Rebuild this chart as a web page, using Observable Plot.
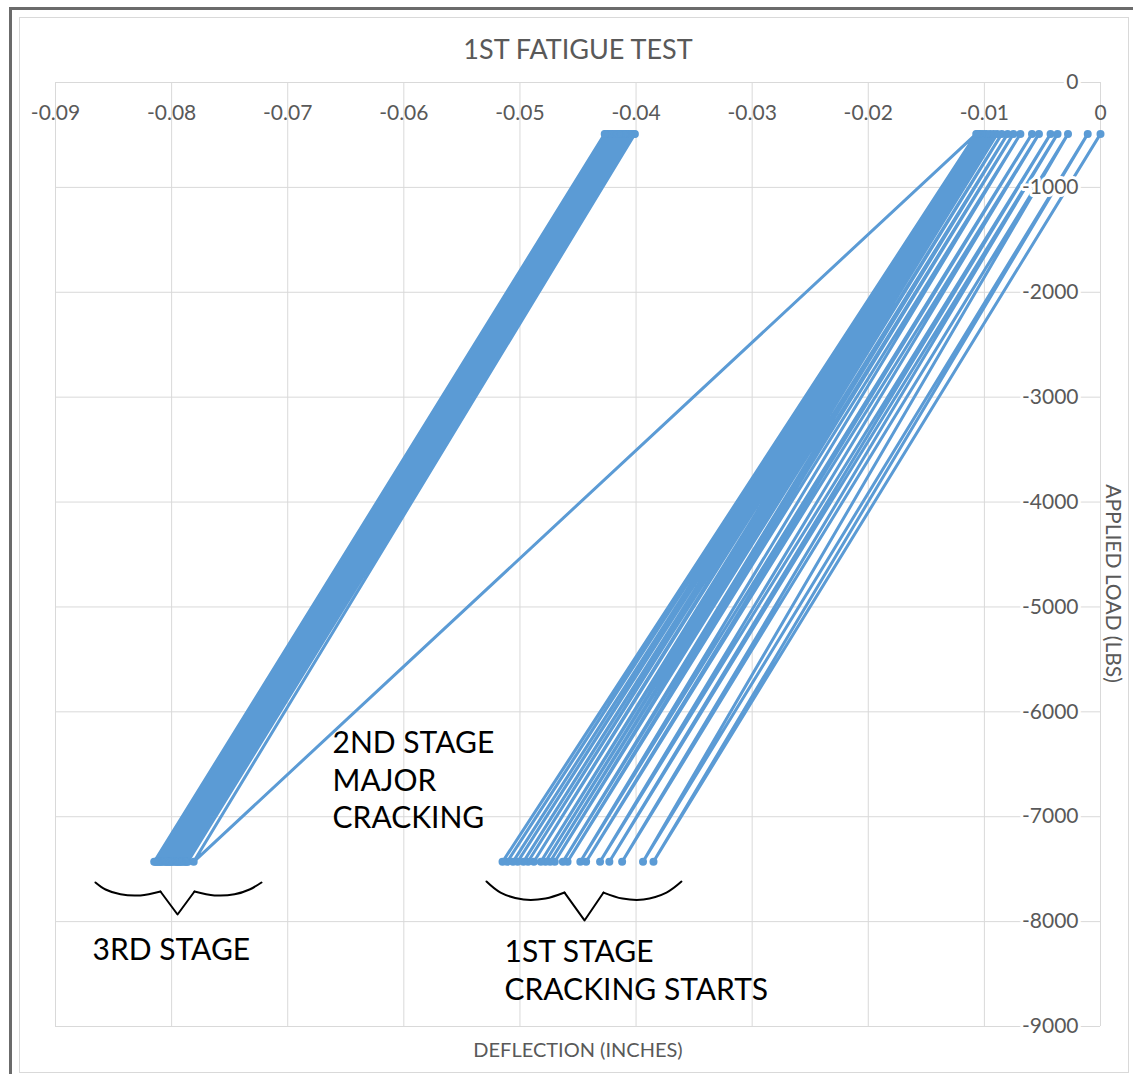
<!DOCTYPE html>
<html><head><meta charset="utf-8">
<script src="https://cdn.jsdelivr.net/npm/d3@7"></script>
<script src="https://cdn.jsdelivr.net/npm/@observablehq/plot@0.6"></script>
<style>
body{margin:0;background:#fff;}
#wrap{position:relative;width:1133px;height:1074px;overflow:hidden;background:#fff;}
#outer{position:absolute;left:9px;top:7px;right:0;bottom:0;border-left:3px solid #6b6b6b;border-top:3px solid #6b6b6b;}
#inner{position:absolute;left:19px;top:17px;width:1110px;height:1056px;border:1px solid #d9d9d9;box-sizing:border-box;}
#chart{position:absolute;left:0;top:0;}
</style></head><body>
<div id="wrap"><div id="outer"></div><div id="inner"></div><div id="chart"></div></div>
<script>
// ---- data ----
const xTicks = [-0.09, -0.08, -0.07, -0.06, -0.05, -0.04, -0.03, -0.02, -0.01, 0];
const yTicks = [0, -1000, -2000, -3000, -4000, -5000, -6000, -7000, -8000, -9000];
const peakLoad = -490;      // lbs, unloaded end of each cycle
const troughLoad = -7430;   // lbs, peak applied load of each cycle

// 1st stage: deflection at low load (peaks) and at full load (troughs), in cycle order
const stage1Peaks = [0, -0.0011, -0.0028, -0.0037, -0.0043, -0.0053, -0.0059, -0.0069, -0.0075, -0.0080,
  -0.0085, -0.0089, -0.0092, -0.0095, -0.0098, -0.0100, -0.0102, -0.0104, -0.0105, -0.0106, -0.0107];
const stage1Troughs = [-0.0385, -0.0394, -0.0412, -0.0423, -0.0431, -0.0443, -0.0448, -0.0459, -0.0463, -0.0470,
  -0.0474, -0.0478, -0.0482, -0.0488, -0.0493, -0.0497, -0.0502, -0.0506, -0.0511, -0.0515];
// 2nd stage: major cracking jump
const stage2Trough = -0.0781;
// 3rd stage cycles
const stage3Peaks = [-0.0401, -0.0402, -0.0404, -0.0403, -0.0405, -0.0406, -0.0408, -0.0407, -0.0409, -0.0410,
  -0.0412, -0.0411, -0.0413, -0.0414, -0.0416, -0.0415, -0.0417, -0.0418, -0.0419, -0.0421, -0.0420, -0.0422,
  -0.0423, -0.0424, -0.0425, -0.0426, -0.0427];
const stage3Troughs = [-0.0786, -0.0787, -0.0789, -0.0788, -0.0791, -0.0792, -0.0793, -0.0795, -0.0794, -0.0796,
  -0.0797, -0.0799, -0.0800, -0.0801, -0.0802, -0.0804, -0.0803, -0.0805, -0.0806, -0.0808, -0.0809, -0.0810,
  -0.0811, -0.0812, -0.0813, -0.0814, -0.0815];

// annotation braces (deflection, load)
const brace1Arcs = [
  [[-0.08656, -7627], [-0.08569, -7694], [-0.08440, -7740], [-0.08268, -7750], [-0.08096, -7713]],
  [[-0.07803, -7713], [-0.07631, -7750], [-0.07458, -7740], [-0.07329, -7694], [-0.07226, -7627]]
];
const brace1Tip = [[-0.08096, -7713], [-0.07949, -7932], [-0.07803, -7713]];
const brace2Arcs = [
  [[-0.05288, -7618], [-0.05167, -7723], [-0.04969, -7789], [-0.04780, -7780], [-0.04616, -7723]],
  [[-0.04280, -7723], [-0.04117, -7780], [-0.03936, -7789], [-0.03738, -7723], [-0.03609, -7618]]
];
const brace2Tip = [[-0.04616, -7723], [-0.04444, -7989], [-0.04280, -7723]];
const annotations = [
  {x: -0.06614, y: -6636, text: "2ND STAGE\nMAJOR\nCRACKING"},
  {x: -0.08681, y: -8247, text: "3RD STAGE"},
  {x: -0.05133, y: -8452, text: "1ST STAGE\nCRACKING STARTS"}
];

// ---- build series ----
const series = [];
stage1Troughs.forEach((t, i) => {
  series.push({x: stage1Peaks[i], y: peakLoad});
  series.push({x: t, y: troughLoad});
});
series.push({x: stage1Peaks[stage1Peaks.length - 1], y: peakLoad});
series.push({x: stage2Trough, y: troughLoad});
stage3Peaks.forEach((p, i) => {
  series.push({x: p, y: peakLoad});
  if (i < stage3Troughs.length) series.push({x: stage3Troughs[i], y: troughLoad});
});

const arcs = [];
brace1Arcs.concat(brace2Arcs).forEach((arc, k) => arc.forEach(p => arcs.push({x: p[0], y: p[1], k})));
const tips = [];
[brace1Tip, brace2Tip].forEach((tip, k) => tip.forEach(p => tips.push({x: p[0], y: p[1], k})));

const blue = "#5b9bd5";
const grey = "#595959";
const chart = Plot.plot({
  width: 1133, height: 1074,
  marginLeft: 55, marginRight: 33, marginTop: 82, marginBottom: 48,
  x: {domain: [-0.09, 0], axis: null},
  y: {domain: [-9000, 0], axis: null},
  style: {fontFamily: "Lato, sans-serif", fontSize: "21px", color: grey, background: "transparent"},
  marks: [
    Plot.ruleX(xTicks, {x: d => d, stroke: "#d9d9d9", strokeWidth: 1}),
    Plot.ruleY(yTicks, {y: d => d, stroke: "#d9d9d9", strokeWidth: 1}),
    Plot.text(xTicks, {x: d => d, frameAnchor: "top", dy: 23, text: d => String(d), fill: grey, fontSize: 21}),
    Plot.line(series, {x: "x", y: "y", stroke: blue, strokeWidth: 3}),
    Plot.dot(series, {x: "x", y: "y", r: 4, fill: blue, stroke: null}),
    Plot.text(yTicks, {y: d => d, frameAnchor: "right", dx: -22, textAnchor: "end", text: d => String(d),
      fill: grey, stroke: "white", strokeWidth: 6, fontSize: 21}),
    Plot.text(["1ST FATIGUE TEST"], {frameAnchor: "top", dy: -32, lineAnchor: "middle", text: d => d, fill: grey, fontSize: 27}),
    Plot.text(["DEFLECTION (INCHES)"], {frameAnchor: "bottom", dy: 24, lineAnchor: "middle", text: d => d, fill: grey, fontSize: 20}),
    Plot.text(["APPLIED LOAD (LBS)"], {frameAnchor: "right", dx: 12, dy: 29, rotate: 90, textAnchor: "middle",
      text: d => d, fill: grey, fontSize: 21}),
    Plot.line(arcs, {x: "x", y: "y", z: "k", curve: "catmull-rom", stroke: "black", strokeWidth: 2}),
    Plot.line(tips, {x: "x", y: "y", z: "k", stroke: "black", strokeWidth: 2}),
    Plot.text(annotations, {x: "x", y: "y", text: "text", textAnchor: "start", lineAnchor: "middle",
      lineHeight: 1.25, fontSize: 30, fill: "black"})
  ]
});
document.getElementById("chart").appendChild(chart);
</script>
</body></html>
